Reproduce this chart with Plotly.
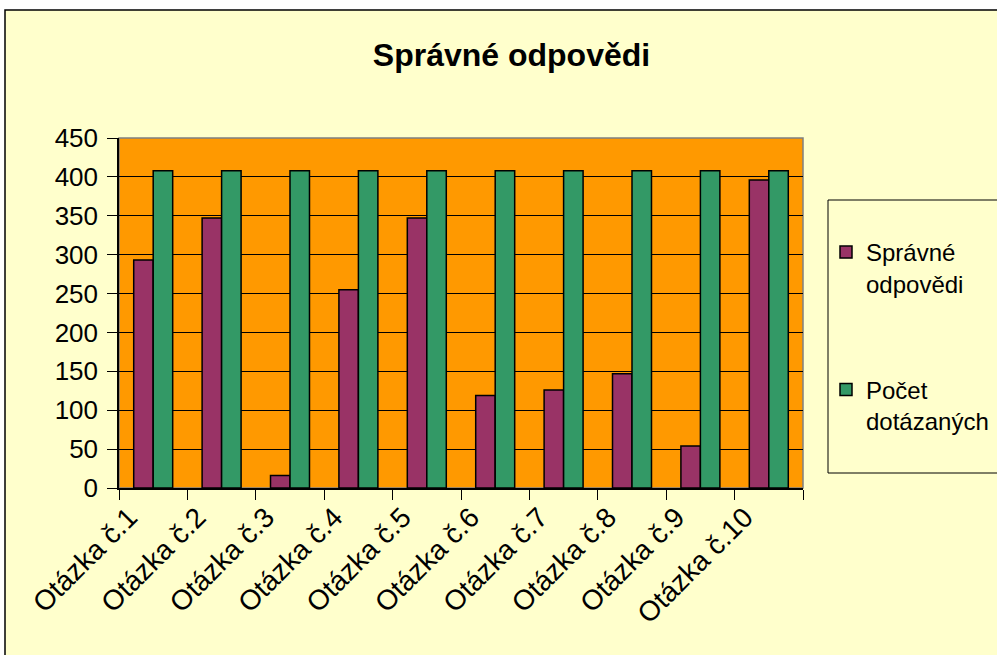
import plotly.graph_objects as go

categories = ["Otázka č.1", "Otázka č.2", "Otázka č.3", "Otázka č.4", "Otázka č.5",
              "Otázka č.6", "Otázka č.7", "Otázka č.8", "Otázka č.9", "Otázka č.10"]
spravne = [293, 347, 16, 255, 347, 119, 126, 147, 54, 396]
dotazanych = [408, 408, 408, 408, 408, 408, 408, 408, 408, 408]
y_ticks = [0, 50, 100, 150, 200, 250, 300, 350, 400, 450]

FONT = "Liberation Sans, Arial, sans-serif"
W, H = 997, 655
L, R, T, B = 119, 194, 138, 167
PW, PH = W - L - R, H - T - B


def px_x(p):
    return (p - L) / PW


def px_y(p):
    return (H - B - p) / PH


fig = go.Figure()
fig.add_trace(go.Bar(
    x=categories, y=spravne, name="Správné<br>odpovědi", legendgroup="a",
    marker=dict(color="#993366", line=dict(color="black", width=1.5)),
))
fig.add_trace(go.Bar(
    x=categories, y=dotazanych, name="Počet<br>dotázaných", legendgroup="b",
    marker=dict(color="#339966", line=dict(color="black", width=1.5)),
))

shapes = [
    # chart area background + border
    dict(type="rect", xref="paper", yref="paper", layer="below",
         x0=px_x(5), x1=px_x(1005), y0=px_y(665), y1=px_y(10),
         fillcolor="#FFFFCC", line=dict(color="black", width=1.5)),
    # plot area
    dict(type="rect", xref="paper", yref="paper", layer="below",
         x0=0, x1=1, y0=0, y1=1,
         fillcolor="#FF9900", line=dict(color="#808080", width=1.5)),
    # legend box
    dict(type="rect", xref="paper", yref="paper", layer="below",
         x0=px_x(828), x1=px_x(1010), y0=px_y(473), y1=px_y(200),
         fillcolor="#FFFFCC", line=dict(color="black", width=1)),
]

fig.update_layout(
    width=W, height=H,
    margin=dict(l=L, r=R, t=T, b=B, autoexpand=False),
    paper_bgcolor="white",
    plot_bgcolor="rgba(0,0,0,0)",
    font=dict(family=FONT, color="black"),
    title=dict(text="<b>Správné odpovědi</b>", x=511.5 / W, xanchor="center",
               xref="container", yref="container", y=(H - 55) / H, yanchor="middle",
               font=dict(size=32, family=FONT, color="black")),
    barmode="group", bargap=0.43, bargroupgap=0,
    showlegend=True,
    legend=dict(x=px_x(826), y=px_y(230), xanchor="left", yanchor="top",
                bgcolor="rgba(0,0,0,0)", borderwidth=0,
                font=dict(size=24, family=FONT, color="black"),
                traceorder="grouped", tracegroupgap=72, valign="top"),
    shapes=shapes,
    xaxis=dict(showline=True, linecolor="black", linewidth=1.5,
               ticks="outside", tickson="boundaries", ticklen=10, tickcolor="black",
               tickangle=-45, tickfont=dict(size=28, family=FONT),
               ticklabelshift=-24,
               showgrid=False, automargin=False),
    yaxis=dict(range=[0, 450], tickvals=y_ticks, showline=True, linecolor="black",
               linewidth=1.5, ticks="outside", ticklen=10, tickcolor="black",
               tickfont=dict(size=26, family=FONT), ticklabelstandoff=4,
               showgrid=True, gridcolor="black", gridwidth=1, zeroline=False,
               automargin=False),
)

fig.write_html("out.html", config={"displayModeBar": False},
               post_script="document.body.style.margin='0';")
